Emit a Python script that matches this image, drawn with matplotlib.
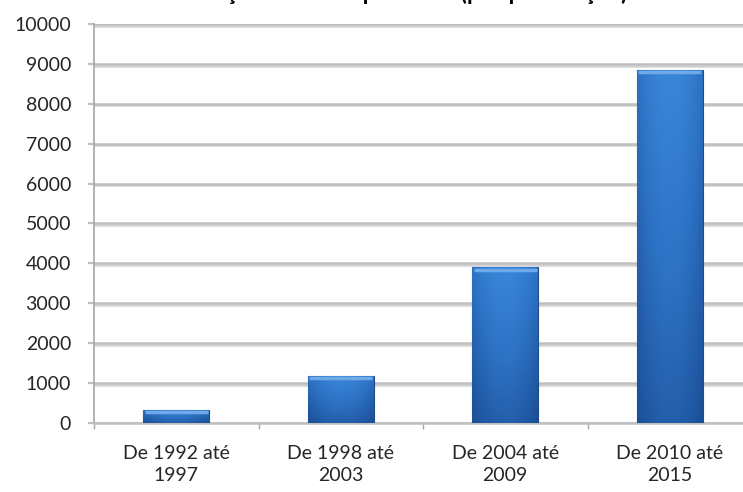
import numpy as np
import matplotlib
matplotlib.use("Agg")
from matplotlib import pyplot as plt
from matplotlib import patheffects as pe
from matplotlib import transforms as mtransforms
from matplotlib.colors import LinearSegmentedColormap

# dados
periodos = ["De 1992 até\n1997", "De 1998 até\n2003", "De 2004 até\n2009", "De 2010 até\n2015"]
valores = [330, 1180, 3900, 8850]
yticks = list(range(0, 10001, 1000))
titulo = "Evolução anual de patentes (por publicação)"

plt.rcParams['font.family'] = ['Lato', 'DejaVu Sans']

W, H = 743, 492
fig = plt.figure(figsize=(W / 100, H / 100), dpi=100)
ax = fig.add_axes([94 / W, 69 / H, 658 / W, 399 / H])

x = np.arange(len(valores))
largura = 0.4
barras = ax.bar(x, valores, largura, color='#2c6fbf', edgecolor='#1c4c8a',
                linewidth=0.8, zorder=3)

# degradê nas barras
cmap = LinearSegmentedColormap.from_list('azul', ['#123a72', '#1f56a0', '#2d72c4', '#3a86d8'])
lin = np.linspace(0, 1, 60)
horiz = 1 - 0.55 * np.abs(lin - 0.5) ** 2 * 4 * 0.5
vert = np.linspace(1.0, 0.55, 100)[:, None]
grad = vert * horiz[None, :]
for b in barras:
    x0, y0 = b.get_x(), b.get_y()
    im = ax.imshow(grad, cmap=cmap, vmin=0.2, vmax=1.0, aspect='auto',
                   extent=(x0, x0 + b.get_width(), y0, y0 + b.get_height()),
                   zorder=3.5, interpolation='bilinear')
    im.set_clip_path(b)

# brilho no topo das barras
desloc = mtransforms.offset_copy(ax.transData, fig=fig, y=-2.5, units='dots')
ax.hlines(valores, x - largura / 2 + 0.01, x + largura / 2 - 0.01, color='#6fa9ea',
          lw=2.5, transform=desloc, zorder=4)

ax.set_xlim(-0.5, len(valores) - 0.5)
ax.set_ylim(0, 10000)
ax.set_yticks(yticks)
ax.set_yticklabels([str(v) for v in yticks], fontsize=14, color='#262626')

ax.set_xticks(x)
ax.set_xticklabels(periodos, fontsize=14, color='#262626', linespacing=1.35)
ax.set_xticks(np.arange(len(valores) + 1) - 0.5, minor=True)
ax.tick_params(axis='x', which='major', length=0, pad=16)
ax.tick_params(axis='x', which='minor', length=4, width=1, color='#A6A6A6')
ax.tick_params(axis='y', length=4.5, width=1.6, color='#BFBFBF', pad=12)

ax.set_axisbelow(True)
ax.yaxis.grid(True, color='#BFBFBF', lw=1.8)
for g in ax.get_ygridlines():
    g.set_path_effects([pe.SimpleLineShadow(offset=(0, -1.2), shadow_color='#808080', alpha=0.35),
                        pe.Normal()])

for s in ['top', 'right']:
    ax.spines[s].set_visible(False)
ax.spines['bottom'].set_color('#BFBFBF')
ax.spines['bottom'].set_linewidth(1.8)
ax.spines['left'].set_color('#A6A6A6')
ax.spines['left'].set_linewidth(1.2)

# título cortado no topo da imagem original
fig.text(167 / W, 1 - 0.5 / H, titulo, fontsize=17, fontweight='bold',
         ha='left', va='baseline', color='black')

fig.savefig('out.png', dpi=100)
